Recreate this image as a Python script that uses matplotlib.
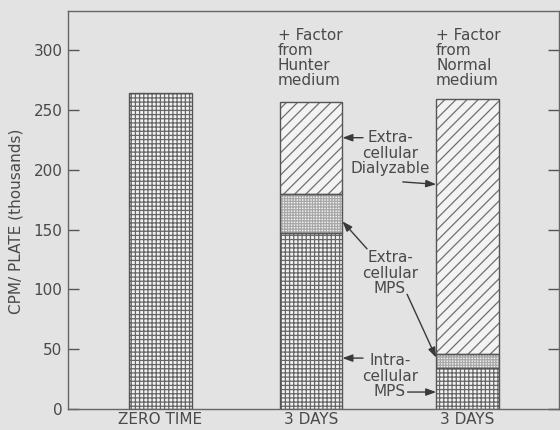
import numpy as np
import matplotlib
matplotlib.use("Agg")
import matplotlib.pyplot as plt

# Radioactivity per plate (thousands of CPM), split by fraction
categories = ["ZERO TIME", "3 DAYS", "3 DAYS"]
intracellular_mps = [264, 147, 34]
extracellular_mps = [0, 33, 12]
extracellular_dialyzable = [0, 77, 213]
yticks = [0, 50, 100, 150, 200, 250, 300]

positions = np.array([0.0, 0.98, 2.0])
width = 0.41

ink = "#4a4a4a"
paper = "#e3e3e3"
bar_face = "#f3f3f3"

plt.rcParams["font.family"] = ["DejaVu Sans"]
plt.rcParams["hatch.linewidth"] = 0.9

fig = plt.figure(figsize=(5.6, 4.3), dpi=100, facecolor=paper)
ax = fig.add_axes([0.1214, 0.0488, 0.877, 0.9256], facecolor=paper)

intra = np.array(intracellular_mps, dtype=float)
emps = np.array(extracellular_mps, dtype=float)
edial = np.array(extracellular_dialyzable, dtype=float)

segments = [
    (np.zeros(3), intra, "++++", "#666666"),
    (intra, emps, "++++++", "#a8a8a8"),
    (intra + emps, edial, "///", "#707070"),
]
for bottom, height, hatch, hcolor in segments:
    ax.bar(positions, height, width, bottom=bottom, color=bar_face,
           edgecolor=hcolor, linewidth=0, hatch=hatch, zorder=2)
    # segment outlines
    for x, b, h in zip(positions, bottom, height):
        if h > 0:
            ax.bar(x, h, width, bottom=b, fill=False, edgecolor="#555555",
                   linewidth=1.0, zorder=3)

ax.set_xlim(-0.6026, 2.596)
ax.set_ylim(0, 333)
ax.set_yticks(yticks)
ax.set_yticklabels([str(t) for t in yticks])
ax.set_xticks(positions)
ax.set_xticklabels(categories)
ax.tick_params(axis="y", direction="in", length=8, width=1.0, color="#555555",
               labelsize=11, labelcolor=ink, pad=4, right=True)
ax.tick_params(axis="x", length=0, labelsize=11, labelcolor=ink, pad=2.5)
for s in ax.spines.values():
    s.set_color("#666666")
    s.set_linewidth(1.0)

fig.text(16 / 560, 1 - 221 / 430, "CPM/ PLATE (thousands)", rotation=90,
         ha="center", va="center", fontsize=11, color=ink)

# condition headers above the 3-day bars
ax.text(0.765, 319, "+ Factor\nfrom\nHunter\nmedium", ha="left", va="top",
        fontsize=11, color=ink, linespacing=1.0)
ax.text(1.795, 319, "+ Factor\nfrom\nNormal\nmedium", ha="left", va="top",
        fontsize=11, color=ink, linespacing=1.0)

# fraction labels between the 3-day bars
label_x = 1.495
ax.text(label_x, 214, "Extra-\ncellular\nDialyzable", ha="center", va="center",
        fontsize=11, color=ink, linespacing=1.05)
ax.text(label_x, 113.6, "Extra-\ncellular\nMPS", ha="center", va="center",
        fontsize=11, color=ink, linespacing=1.05)
ax.text(label_x, 27.6, "Intra-\ncellular\nMPS", ha="center", va="center",
        fontsize=11, color=ink, linespacing=1.05)

arrow = dict(arrowstyle="-|>,head_length=0.6,head_width=0.22", color="#3a3a3a",
             lw=1.0, shrinkA=0, shrinkB=0)
right2 = positions[1] + width / 2
left3 = positions[2] - width / 2
pointers = [
    ((1.319, 227), (right2, 227)),
    ((1.578, 190), (left3, 188)),
    ((1.345, 134), (right2, 157)),
    ((1.606, 96), (left3, 43)),
    ((1.319, 42.6), (right2, 42.6)),
    ((1.609, 14.2), (left3, 14.2)),
]
for tail, tip in pointers:
    ax.annotate("", xy=tip, xytext=tail, arrowprops=arrow, zorder=4)

fig.savefig("out.png", dpi=100, facecolor=paper)
